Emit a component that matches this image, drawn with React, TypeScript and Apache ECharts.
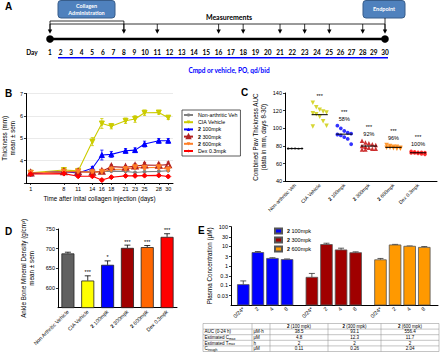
import React, { useEffect, useRef } from "react";
import * as echarts from "echarts";

const FONT = "'Liberation Sans', Arial, sans-serif";
const AFONT = "Lato, 'Liberation Sans', sans-serif";

// ---------- Panel A (schedule) ----------
const timelineDays = [1, 2, 3, 4, 5, 6, 7, 8, 9, 10, 11, 12, 13, 14, 15, 16, 17, 18, 19, 20, 21, 22, 23, 24, 25, 26, 27, 28, 29, 30];
const measurementDays = [1, 8, 11, 16, 18, 21, 23, 25, 28, 30];
const collagenDays = [1, 8];

// ---------- Panel B ----------
const bDays = [1, 8, 11, 14, 16, 18, 21, 23, 25, 28, 30];
const bNames = ["Non-arthritic Veh", "CIA Vehicle", "2 100mpk", "2 300mpk", "2 600mpk", "Dex 0.3mpk"];
const bNonArthritic = [3.45, 3.5, 3.5, 3.5, 3.5, 3.53, 3.52, 3.47, 3.5, 3.52, 3.55];
const bCIA = [3.46, 3.58, 3.54, 4.85, 5.66, 5.54, 5.78, 5.86, 6.14, 6.15, 5.92];
const b100 = [3.43, 3.51, 3.45, 3.66, 4.25, 4.28, 4.44, 4.47, 4.74, 4.89, 4.89];
const b300 = [3.45, 3.5, 3.5, 3.48, 3.52, 3.73, 3.7, 3.76, 3.8, 3.79, 3.82];
const b600 = [3.45, 3.5, 3.5, 3.48, 3.5, 3.6, 3.62, 3.7, 3.68, 3.7, 3.6];
const bDex = [3.4, 3.42, 3.3, 3.3, 3.13, 3.26, 3.32, 3.32, 3.33, 3.34, 3.29];
const bSemNonArthritic = [0.03, 0.03, 0.03, 0.03, 0.03, 0.03, 0.03, 0.03, 0.03, 0.03, 0.03];
const bSemCIA = [0.05, 0.05, 0.05, 0.18, 0.22, 0.12, 0.12, 0.15, 0.12, 0.08, 0.08];
const bSem100 = [0.03, 0.05, 0.05, 0.08, 0.22, 0.13, 0.1, 0.1, 0.13, 0.1, 0.1];
const bSem300 = [0.03, 0.03, 0.03, 0.05, 0.05, 0.08, 0.08, 0.1, 0.12, 0.1, 0.12];
const bSem600 = [0.03, 0.03, 0.03, 0.05, 0.05, 0.07, 0.07, 0.08, 0.08, 0.08, 0.08];
const bSemDex = [0.03, 0.03, 0.04, 0.05, 0.06, 0.04, 0.04, 0.04, 0.04, 0.05, 0.04];

// ---------- Panel C ----------
const cGroups = ["Non-arthritic Veh", "CIA Vehicle", "2 100mpk", "2 300mpk", "2 600mpk", "Dex 0.3mpk"];
const cNonArthritic = [77.5, 77.2, 77, 76.8, 77.3, 76.9, 77.1, 77.4, 76.7, 77, 76.6];
const cCIA = [129, 124, 121, 119, 118, 117, 116, 113, 108, 103, 102];
const c100 = [103, 100, 97, 95, 94, 93, 92, 90, 88, 82];
const c300 = [86, 84, 83, 82, 81, 80, 79, 78, 77, 77, 76, 76];
const c600 = [81, 80, 79, 79, 78, 78, 78, 77.5, 77, 77];
const cDex = [74, 73.5, 73, 73, 72.5, 72, 72, 71.5, 71, 70.5];
const cStats = ["", "***", "***\n58%", "***\n92%", "***\n96%", "***\n100%"];

// ---------- Panel D ----------
const dCategories = ["Non Arthritic Vehicle", "CIA Vehicle", "2 100mpk", "2 300mpk", "2 600mpk", "Dex 0.3mpk"];
const dValues = [688, 619, 659, 702, 704, 730];
const dErrors = [3, 12, 10, 7, 4, 8];
const dStats = ["", "***", "*", "***", "***", "***"];

// ---------- Panel E ----------
const eGroups = ["2 100mpk", "2 300mpk", "2 600mpk"];
const eTimes = ["0/24*", "2", "4", "8"];
const e100 = [0.11, 4.8, 2.4, 2.1];
const e300 = [0.26, 12.3, 6.5, 4.7];
const e600 = [2.04, 11.7, 10, 8.8];
const eErr100 = [0.06, 0.6, 0.2, 0.15];
const eErr300 = [0.15, 2, 1.5, 0.5];
const eErr600 = [0.35, 0.8, 0.4, 0.9];
const eTicks = [0.03, 0.1, 0.3, 1, 3, 10, 30, 100];

// ---------- Table ----------
const tableHeader = ["", "", "{b|2} (100 mpk)", "{b|2} (300 mpk)", "{b|2} (600 mpk)"];
const tableRowLabels = ["AUC (0-24 h)", "Estimated C{sub|max}", "Estimated T{sub|max}", "C{sub|trough}"];
const tableUnits = ["μM·h", "μM", "h", "μM"];
const table100 = ["38.5", "4.8", "2", "0.11"];
const table300 = ["93.1", "12.3", "2", "2"];
const table600 = ["556.4", "11.7", "2", "2.04"];
table300[3] = "0.26";

const C = {
  gray: "#808080",
  yellow: "#CCCC00",
  blue: "#0000FF",
  darkred: "#B22222",
  orange: "#FF7F27",
  red: "#FF0000",
};

const boldTwo = (s: string) => (s.startsWith("2 ") ? "{b|2}" + s.slice(1) : s);

function dayX(d: number) {
  const anchors = [[1, 50], [10, 145], [20, 267.7], [25, 329.3], [30, 385]];
  for (let i = 0; i < anchors.length - 1; i++) {
    const [d0, x0] = anchors[i];
    const [d1, x1] = anchors[i + 1];
    if (d <= d1) return x0 + ((d - d0) * (x1 - x0)) / (d1 - d0);
  }
  return 385;
}

function txt(x: number, y: number, text: string, opts: any = {}) {
  return {
    type: "text",
    x,
    y,
    silent: true,
    style: {
      text,
      fill: opts.fill || "#000",
      fontSize: opts.fontSize || 6,
      fontWeight: opts.fontWeight || "normal",
      fontFamily: opts.fontFamily || FONT,
      align: opts.align || "left",
      verticalAlign: opts.verticalAlign || "middle",
      textAlign: opts.align || "left",
      textVerticalAlign: opts.verticalAlign || "middle",
      lineHeight: opts.lineHeight,
      rich: opts.rich,
    },
  };
}

function buildGraphics() {
  const g: any[] = [];
  // panel letters
  g.push(txt(5, 6, "A", { fontSize: 10, fontWeight: "bold" }));
  g.push(txt(5, 93, "B", { fontSize: 10, fontWeight: "bold" }));
  g.push(txt(241, 92, "C", { fontSize: 10, fontWeight: "bold" }));
  g.push(txt(5, 231, "D", { fontSize: 10, fontWeight: "bold" }));
  g.push(txt(198, 230, "E", { fontSize: 10, fontWeight: "bold" }));

  // boxes
  g.push({ type: "rect", shape: { x: 58, y: 0.5, width: 57, height: 17.5, r: 3 }, style: { fill: "#4F81BD", stroke: "#385D8A", lineWidth: 1 } });
  g.push(txt(86.5, 9.3, "Collagen\nAdministration", { fill: "#fff", fontWeight: "bold", fontSize: 5.5, align: "center", lineHeight: 7, fontFamily: AFONT }));
  g.push({ type: "rect", shape: { x: 363, y: 0.5, width: 42, height: 17.5, r: 3 }, style: { fill: "#4F81BD", stroke: "#385D8A", lineWidth: 1 } });
  g.push(txt(384, 9.3, "Endpoint", { fill: "#fff", fontWeight: "bold", fontSize: 5.5, align: "center", fontFamily: AFONT }));
  g.push(txt(229, 16.5, "Measurements", { fontWeight: "bold", fontSize: 7, align: "center", fontFamily: AFONT }));

  // brackets
  const xc0 = dayX(collagenDays[0]);
  const xc1 = dayX(collagenDays[1]);
  const xEnd = dayX(30);
  g.push({ type: "polyline", shape: { points: [[xc0, 30], [xc0, 21], [xc1, 21], [xc1, 30]] }, style: { stroke: "#000", lineWidth: 0.8, fill: null } });
  g.push({ type: "line", shape: { x1: xc0, y1: 24, x2: xEnd, y2: 24 }, style: { stroke: "#000", lineWidth: 0.8 } });
  g.push({ type: "line", shape: { x1: xEnd, y1: 18, x2: xEnd, y2: 30 }, style: { stroke: "#000", lineWidth: 0.8 } });
  measurementDays.forEach((d) => {
    const x = dayX(d);
    g.push({ type: "line", shape: { x1: x, y1: 24, x2: x, y2: 30 }, style: { stroke: "#000", lineWidth: 0.8 } });
    g.push({ type: "polygon", shape: { points: [[x - 2.2, 29.5], [x + 2.2, 29.5], [x, 33.8]] }, style: { fill: "#000" } });
  });
  // timeline
  g.push({ type: "line", shape: { x1: xc0, y1: 39, x2: xEnd, y2: 39 }, style: { stroke: "#000", lineWidth: 2.6 } });
  g.push({ type: "circle", shape: { cx: xc0, cy: 39, r: 3.8 }, style: { fill: "#000" } });
  g.push({ type: "circle", shape: { cx: xEnd, cy: 39, r: 3.8 }, style: { fill: "#000" } });
  g.push(txt(32, 52.5, "Day", { fontWeight: "bold", fontSize: 6.5, align: "center", fontFamily: AFONT }));
  timelineDays.forEach((d) => {
    g.push(txt(dayX(d), 52.5, String(d), { fontWeight: "bold", fontSize: 6.5, align: "center", fontFamily: AFONT }));
  });
  g.push({ type: "line", shape: { x1: 58, y1: 57.7, x2: 388, y2: 57.7 }, style: { stroke: "#0000FF", lineWidth: 1.4 } });
  g.push(txt(229, 70, "Cmpd or vehicle, PO, qd/bid", { fontWeight: "bold", fontSize: 6.5, align: "center", fill: "#0000FF", fontFamily: AFONT }));

  // table
  const colX = [203, 252, 270, 328, 381, 439];
  const top = 323.5;
  const rowH = 5.6;
  const nRows = 1 + tableRowLabels.length;
  const bottom = top + rowH * nRows;
  const lineStyle = { stroke: "#888", lineWidth: 0.5 };
  for (let r = 0; r <= nRows; r++) {
    g.push({ type: "line", shape: { x1: colX[0], y1: top + r * rowH, x2: colX[5], y2: top + r * rowH }, style: lineStyle });
  }
  colX.forEach((x, i) => {
    g.push({ type: "line", shape: { x1: x, y1: i === 2 || i === 0 || i === 5 ? top : top, x2: x, y2: bottom }, style: lineStyle });
  });
  const rich = {
    b: { fontWeight: "bold", fontSize: 4.5, fontFamily: FONT },
    sub: { fontSize: 3.4, fontFamily: FONT, padding: [2, 0, 0, 0] },
  };
  const rows = [tableHeader].concat(
    tableRowLabels.map((l, i) => [l, tableUnits[i], table100[i], table300[i], table600[i]])
  );
  rows.forEach((row, r) => {
    const y = top + r * rowH + rowH / 2;
    row.forEach((cell, c) => {
      if (!cell) return;
      const center = c >= 2;
      const x = center ? (colX[c] + colX[c + 1]) / 2 : colX[c] + 1.5;
      g.push(txt(x, y, cell, { fontSize: 4.5, align: center ? "center" : "left", rich }));
    });
  });
  return g;
}

function errorBarRender(color: string, capPx: number, upOnly = false) {
  return (params: any, api: any) => {
    const x = api.value(0);
    const y = api.value(1);
    const e = api.value(2);
    const top = api.coord([x, y + e]);
    const mid = api.coord([x, y]);
    const bot = upOnly ? mid : api.coord([x, y - e]);
    const children: any[] = [
      { type: "line", shape: { x1: top[0], y1: top[1], x2: bot[0], y2: bot[1] }, style: { stroke: color, lineWidth: 0.8 } },
      { type: "line", shape: { x1: top[0] - capPx, y1: top[1], x2: top[0] + capPx, y2: top[1] }, style: { stroke: color, lineWidth: 0.8 } },
    ];
    if (!upOnly) {
      children.push({ type: "line", shape: { x1: bot[0] - capPx, y1: bot[1], x2: bot[0] + capPx, y2: bot[1] }, style: { stroke: color, lineWidth: 0.8 } });
    }
    return { type: "group", children };
  };
}

const mean = (a: number[]) => a.reduce((s, v) => s + v, 0) / a.length;

function buildOption() {
  const tickLabel = { fontSize: 5.5, color: "#000", fontFamily: FONT };
  const axisLine = { show: true, onZero: false, lineStyle: { color: "#000", width: 1 } };
  const axisTick = { show: true, length: 2, lineStyle: { color: "#000", width: 0.8 } };
  const nameStyle = { fontSize: 6.3, color: "#000", fontFamily: FONT, lineHeight: 7.5 };
  const richBold = { b: { fontWeight: "bold", fontSize: 5.3, fontFamily: FONT, color: "#000" } };

  const bSets = [
    { name: bNames[0], data: bNonArthritic, sem: bSemNonArthritic, color: C.gray, symbol: "circle", size: 3, rot: 0 },
    { name: bNames[1], data: bCIA, sem: bSemCIA, color: C.yellow, symbol: "triangle", size: 5, rot: 180 },
    { name: bNames[2], data: b100, sem: bSem100, color: C.blue, symbol: "triangle", size: 5, rot: 0 },
    { name: bNames[3], data: b300, sem: bSem300, color: C.darkred, symbol: "emptyTriangle", size: 5, rot: 0 },
    { name: bNames[4], data: b600, sem: bSem600, color: C.orange, symbol: "triangle", size: 5, rot: 180 },
    { name: bNames[5], data: bDex, sem: bSemDex, color: C.red, symbol: "diamond", size: 5, rot: 0 },
  ];

  const cSets = [
    { data: cNonArthritic, color: C.gray, symbol: "circle", size: 2.2, rot: 0 },
    { data: cCIA, color: C.yellow, symbol: "triangle", size: 4.5, rot: 180 },
    { data: c100, color: C.blue, symbol: "circle", size: 3.8, rot: 0 },
    { data: c300, color: "#C00000", symbol: "triangle", size: 4.5, rot: 0 },
    { data: c600, color: "#FF8000", symbol: "triangle", size: 4.5, rot: 180 },
    { data: cDex, color: C.red, symbol: "circle", size: 3.5, rot: 0 },
  ];
  const jitter = (j: number) => ((j % 5) - 2) * 0.14;

  const dColors = ["#606060", "#FFFF00", "#0000FF", "#A00000", "#FF6600", "#FF0000"];

  const eSets = [
    { name: "E·" + eGroups[0], data: e100, err: eErr100, color: "#0000FF" },
    { name: "E·" + eGroups[1], data: e300, err: eErr300, color: "#A00000" },
    { name: "E·" + eGroups[2], data: e600, err: eErr600, color: "#FF9900" },
  ];
  const eGroupStep = 4.7;
  const ePos = (g: number, j: number) => g * eGroupStep + j;
  const ePositions: number[] = [];
  const eLabelMap: Record<string, string> = {};
  eSets.forEach((_, g) => eTimes.forEach((t, j) => { const p = ePos(g, j); ePositions.push(p); eLabelMap[p.toFixed(2)] = t; }));

  const series: any[] = [];

  // ---- B ----
  bSets.forEach((s) => {
    series.push({
      type: "custom",
      name: s.name + " err",
      xAxisIndex: 0,
      yAxisIndex: 0,
      encode: { x: 0, y: 1 },
      data: bDays.map((d, i) => [d, s.data[i], s.sem[i]]),
      renderItem: errorBarRender(s.color, 1.6),
      z: 2,
      silent: true,
    });
    series.push({
      type: "line",
      name: s.name,
      xAxisIndex: 0,
      yAxisIndex: 0,
      data: bDays.map((d, i) => [d, s.data[i]]),
      symbol: s.symbol,
      symbolSize: s.size,
      symbolRotate: s.rot,
      lineStyle: { color: s.color, width: 1.1 },
      itemStyle: { color: s.color, borderColor: s.color },
      z: 3,
    });
  });

  // ---- C ----
  cSets.forEach((s, i) => {
    series.push({
      type: "scatter",
      name: "C" + i,
      xAxisIndex: 1,
      yAxisIndex: 1,
      data: s.data.map((v, j) => [i + jitter(j), v]),
      symbol: s.symbol,
      symbolSize: s.size,
      symbolRotate: s.rot,
      itemStyle: { color: s.color },
      z: 3,
    });
  });
  series.push({
    type: "custom",
    name: "C mean",
    xAxisIndex: 1,
    yAxisIndex: 1,
    encode: { x: 0, y: 1 },
    data: cSets.map((s, i) => [i, mean(s.data), Math.max(...s.data)]),
    renderItem: (params: any, api: any) => {
      const i = api.value(0);
      const m = api.value(1);
      const mx = api.value(2);
      const l = api.coord([i - 0.33, m]);
      const r = api.coord([i + 0.33, m]);
      const t = api.coord([i, mx]);
      return {
        type: "group",
        children: [
          { type: "line", shape: { x1: l[0], y1: l[1], x2: r[0], y2: r[1] }, style: { stroke: "#000", lineWidth: 1 } },
          {
            type: "text",
            x: t[0],
            y: t[1] - 3.5,
            style: { text: cStats[params.dataIndex], align: "center", verticalAlign: "bottom", fontSize: 5.5, lineHeight: 7, fontFamily: FONT, fill: "#000" },
          },
        ],
      };
    },
    z: 4,
    silent: true,
  });

  // ---- D ----
  series.push({
    type: "bar",
    name: "D",
    xAxisIndex: 2,
    yAxisIndex: 2,
    barWidth: 13,
    data: dValues.map((v, i) => ({ value: v, itemStyle: { color: dColors[i] } })),
    itemStyle: { borderColor: "#222", borderWidth: 0.8 },
    z: 2,
  });
  series.push({
    type: "custom",
    name: "D err",
    xAxisIndex: 2,
    yAxisIndex: 2,
    encode: { x: 0, y: 1 },
    data: dValues.map((v, i) => [i, v, dErrors[i]]),
    renderItem: (params: any, api: any) => {
      const g: any = errorBarRender("#000", 3, true)(params, api);
      const top = api.coord([api.value(0), api.value(1) + api.value(2)]);
      g.children.push({
        type: "text",
        x: top[0],
        y: top[1] - 0.5,
        style: { text: dStats[params.dataIndex], align: "center", verticalAlign: "bottom", fontSize: 5.5, fontFamily: FONT, fill: "#000" },
      });
      return g;
    },
    z: 3,
    silent: true,
  });

  // ---- E ----
  eSets.forEach((s, g) => {
    series.push({
      type: "custom",
      name: s.name,
      xAxisIndex: 3,
      yAxisIndex: 3,
      encode: { x: 0, y: 1 },
      itemStyle: { color: s.color, borderColor: "#555", borderWidth: 0.8 },
      data: s.data.map((v, j) => [ePos(g, j), v, s.err[j]]),
      renderItem: (params: any, api: any) => {
        const p = api.value(0);
        const v = api.value(1);
        const e = api.value(2);
        const cs = params.coordSys;
        const base = cs.y + cs.height;
        const l = api.coord([p - 0.4, v]);
        const r = api.coord([p + 0.4, v]);
        const t = api.coord([p, v + e]);
        return {
          type: "group",
          children: [
            { type: "line", shape: { x1: t[0], y1: t[1], x2: t[0], y2: l[1] }, style: { stroke: "#333", lineWidth: 0.8 } },
            { type: "line", shape: { x1: t[0] - 3, y1: t[1], x2: t[0] + 3, y2: t[1] }, style: { stroke: "#333", lineWidth: 0.8 } },
            { type: "rect", shape: { x: l[0], y: l[1], width: r[0] - l[0], height: base - l[1] }, style: { fill: s.color, stroke: "#555", lineWidth: 0.8 } },
          ],
        };
      },
      z: 3,
    });
  });

  return {
    animation: false,
    backgroundColor: "#fff",
    textStyle: { fontFamily: FONT },
    grid: [
      { left: 22, top: 93.5, width: 151, height: 89.5 },
      { left: 285, top: 93, width: 152, height: 88.3 },
      { left: 58, top: 229, width: 119, height: 78.7 },
      { left: 231, top: 226.7, width: 207, height: 78.3 },
    ],
    legend: [
      {
        data: bNames,
        left: 182,
        top: 110,
        orient: "vertical",
        itemWidth: 9,
        itemHeight: 4,
        itemGap: 1.2,
        padding: [2, 3, 2, 1],
        borderColor: "#333",
        borderWidth: 0.8,
        selectedMode: false,
        textStyle: { fontSize: 5.3, fontFamily: FONT, color: "#000", lineHeight: 6, rich: richBold },
        formatter: (n: string) => boldTwo(n),
      },
      {
        data: eSets.map((s) => s.name),
        left: 274,
        top: 227.5,
        orient: "vertical",
        icon: "rect",
        itemWidth: 7,
        itemHeight: 5,
        itemGap: 2,
        padding: 0,
        selectedMode: false,
        textStyle: { fontSize: 5.5, fontFamily: FONT, color: "#000", lineHeight: 6, rich: richBold },
        formatter: (n: string) => boldTwo(n.replace("E·", "")),
      },
    ],
    xAxis: [
      {
        gridIndex: 0,
        type: "value",
        min: 0,
        max: 31,
        axisLine,
        axisTick: { ...axisTick, customValues: bDays },
        axisLabel: { ...tickLabel, customValues: bDays, margin: 3 },
        splitLine: { show: false },
        name: "Time after inital collagen injection (days)",
        nameLocation: "middle",
        nameGap: 11.5,
        nameTextStyle: nameStyle,
      },
      {
        gridIndex: 1,
        type: "value",
        min: -0.41,
        max: 5.77,
        axisLine,
        axisTick: { show: false },
        axisLabel: {
          ...tickLabel,
          fontSize: 5,
          rotate: 45,
          margin: 3,
          customValues: cGroups.map((_, i) => i),
          formatter: (v: number) => boldTwo(cGroups[Math.round(v)] || ""),
          rich: { b: { ...richBold.b, fontSize: 5 } },
        },
        splitLine: { show: false },
      },
      {
        gridIndex: 2,
        type: "category",
        data: dCategories,
        axisLine,
        axisTick: { show: false },
        axisLabel: { ...tickLabel, fontSize: 5.3, rotate: 45, margin: 3, interval: 0, formatter: (v: string) => boldTwo(v), rich: richBold },
      },
      {
        gridIndex: 3,
        type: "value",
        min: -0.84,
        max: 13.34,
        axisLine,
        axisTick: { show: false },
        axisLabel: {
          ...tickLabel,
          rotate: 45,
          margin: 3,
          customValues: ePositions,
          formatter: (v: number) => eLabelMap[Number(v).toFixed(2)] || "",
        },
        splitLine: { show: false },
      },
    ],
    yAxis: [
      {
        gridIndex: 0,
        type: "value",
        min: 3,
        max: 7,
        interval: 1,
        axisLine,
        axisTick,
        axisLabel: { ...tickLabel, margin: 3, formatter: (v: number) => (v === 3 ? "" : String(v)) },
        splitLine: { show: true, lineStyle: { color: "#e4e4e4", width: 0.8 } },
        name: "Thickness (mm)\nmean ± sem",
        nameLocation: "middle",
        nameGap: 8.5,
        nameTextStyle: nameStyle,
      },
      {
        gridIndex: 1,
        type: "value",
        min: 40,
        max: 140,
        interval: 20,
        axisLine,
        axisTick,
        axisLabel: { ...tickLabel, margin: 3 },
        splitLine: { show: false },
        name: "Combined Paw Thickness AUC\n(data in mm, days 8-30)",
        nameLocation: "middle",
        nameGap: 18,
        nameTextStyle: nameStyle,
      },
      {
        gridIndex: 2,
        type: "value",
        min: 550,
        max: 750,
        interval: 50,
        axisLine,
        axisTick: { ...axisTick, customValues: [600, 650, 700, 750] },
        axisLabel: { ...tickLabel, margin: 3, customValues: [600, 650, 700, 750] },
        splitLine: { show: false },
        name: "Ankle Bone Mineral Density (g/cm³)\nmean ± sem",
        nameLocation: "middle",
        nameGap: 23,
        nameTextStyle: nameStyle,
      },
      {
        gridIndex: 3,
        type: "log",
        logBase: 10,
        min: 0.01,
        max: 100,
        axisLine,
        axisTick: { ...axisTick, customValues: eTicks },
        axisLabel: { ...tickLabel, margin: 3, customValues: eTicks, formatter: (v: number) => String(v) },
        splitLine: { show: false },
        name: "Plasma Concentration (μM)",
        nameLocation: "middle",
        nameGap: 17.5,
        nameTextStyle: nameStyle,
      },
    ],
    graphic: { elements: buildGraphics() },
    series,
  };
}

export default function App() {
  const ref = useRef<HTMLDivElement>(null);
  useEffect(() => {
    if (!ref.current) return;
    const chart = echarts.init(ref.current, null, { renderer: "svg" });
    chart.setOption(buildOption() as any);
    return () => chart.dispose();
  }, []);
  return (
    <div
      ref={ref}
      style={{ position: "fixed", left: 0, top: 0, width: 440, height: 363, background: "#fff" }}
    />
  );
}
